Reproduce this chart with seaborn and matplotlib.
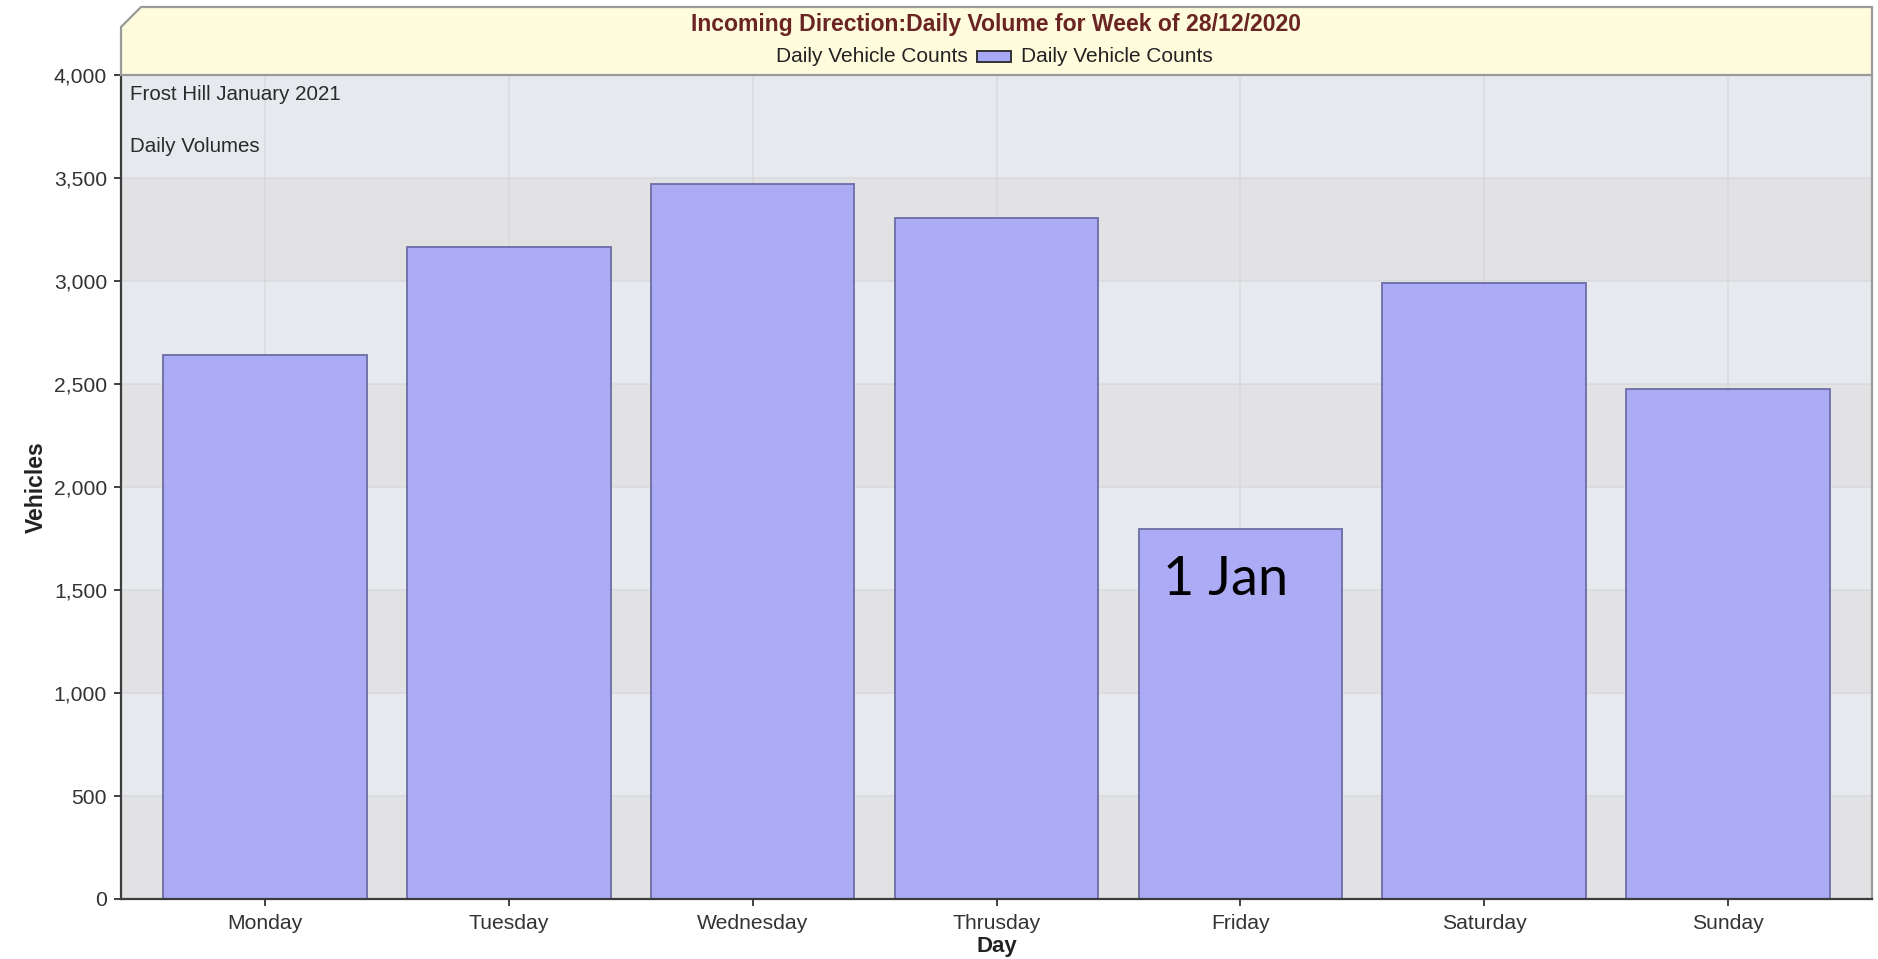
import matplotlib
matplotlib.use("Agg")
import matplotlib.pyplot as plt
from matplotlib.patches import Polygon, Rectangle
import seaborn as sns
import pandas as pd

# Daily incoming vehicle counts, week commencing 28/12/2020
days = ["Monday", "Tuesday", "Wednesday", "Thrusday", "Friday", "Saturday", "Sunday"]
counts = [2643, 3166, 3471, 3307, 1797, 2992, 2477]
y_ticks = [0, 500, 1000, 1500, 2000, 2500, 3000, 3500, 4000]
y_tick_labels = ["0", "500", "1,000", "1,500", "2,000", "2,500", "3,000", "3,500", "4,000"]

title = "Incoming Direction:Daily Volume for Week of 28/12/2020"
series_name = "Daily Vehicle Counts"
note_lines = ["Frost Hill January 2021", "Daily Volumes"]
holiday_label = "1 Jan"
holiday_day = "Friday"

sns.set_theme(style="white")
plt.rcParams["font.family"] = ["Liberation Sans", "DejaVu Sans"]

W, H, DPI = 1878, 959, 100
fig = plt.figure(figsize=(W / DPI, H / DPI), dpi=DPI)
fig.patch.set_facecolor("white")

# plot area in pixel coordinates
L, R, T, B = 121, 1872, 75, 899
ax = fig.add_axes([L / W, 1 - B / H, (R - L) / W, (B - T) / H])
ax.set_facecolor("#e6e9ed")

df = pd.DataFrame({"Day": days, "Vehicles": counts})

# alternating horizontal bands between grid lines
for i in range(len(y_ticks) - 1):
    if i % 2 == 0:
        ax.axhspan(y_ticks[i], y_ticks[i + 1], color="#e2e2e4", zorder=0, lw=0)

sns.barplot(data=df, x="Day", y="Vehicles", ax=ax, width=0.835,
            color="#a6a6f8", alpha=0.9, edgecolor="#6a6aa4", linewidth=1.4,
            saturation=1, zorder=2)

ax.set_axisbelow(True)
ax.set_xlim(-0.59, len(days) - 0.41)
ax.set_ylim(0, 4000)
ax.set_yticks(y_ticks)
ax.set_yticklabels(y_tick_labels)
ax.set_xticks(range(len(days)))
ax.set_xticklabels(days)

ax.grid(True, axis="both", color="#d0d0d3", lw=1.1, zorder=1)
for line in ax.get_xgridlines() + ax.get_ygridlines():
    line.set_zorder(3)
    line.set_alpha(0.55)

ax.tick_params(axis="both", which="major", direction="out", length=5, width=1.3,
               color="#333333", labelsize=15.2, labelcolor="#333333",
               left=True, bottom=True)
ax.tick_params(axis="y", pad=5)
ax.tick_params(axis="x", pad=6)

for side in ["left", "bottom"]:
    ax.spines[side].set_color("#3c3c3c")
    ax.spines[side].set_linewidth(1.6)
ax.spines["right"].set_color("#9a9a9a")
ax.spines["right"].set_linewidth(1.6)
ax.spines["top"].set_visible(False)

ax.set_xlabel("Day", fontsize=16, fontweight="bold", color="#222222", labelpad=2)
ax.set_ylabel("Vehicles", fontsize=16.5, fontweight="bold", color="#222222", labelpad=4)

# notes in the top-left corner of the plot
ax.text(9 / (R - L), 1 - 20 / (B - T), note_lines[0], transform=ax.transAxes,
        fontsize=14.8, color="#2a2a2a", va="center", ha="left")
ax.text(9 / (R - L), 1 - 71 / (B - T), note_lines[1], transform=ax.transAxes,
        fontsize=14.8, color="#2a2a2a", va="center", ha="left")

# holiday annotation on the Friday bar
hx = days.index(holiday_day)
ax.text(hx - 0.06, 1550, holiday_label, fontsize=39, family=["Lato", "DejaVu Sans"],
        color="black", ha="center", va="center", zorder=5)

# header box with chamfered top-left corner
hl, hr, ht, hb, ch = 121, 1872, 7, 75, 20
pts = [(hl, H - hb), (hl, H - ht - ch), (hl + ch, H - ht), (hr, H - ht), (hr, H - hb)]
header = Polygon([(x / W, y / H) for x, y in pts], closed=True,
                 transform=fig.transFigure, facecolor="#fefcdc",
                 edgecolor="#9a9a9a", linewidth=1.6)
fig.add_artist(header)

cx = (hl + hr) / 2 / W
fig.text(cx, 1 - 25 / H, title, ha="center", va="center", fontsize=16.6,
         fontweight="bold", color="#6b2424")

# legend row inside the header
fig.text(968 / W, 1 - 56 / H, series_name, ha="right", va="center",
         fontsize=15, color="#222222")
fig.add_artist(Rectangle((977 / W, 1 - 62 / H), 34 / W, 11 / H,
                         transform=fig.transFigure, facecolor="#a8a8f8",
                         edgecolor="#333333", linewidth=1.4))
fig.text(1021 / W, 1 - 56 / H, series_name, ha="left", va="center",
         fontsize=15, color="#222222")

fig.savefig("out.png", dpi=DPI)
